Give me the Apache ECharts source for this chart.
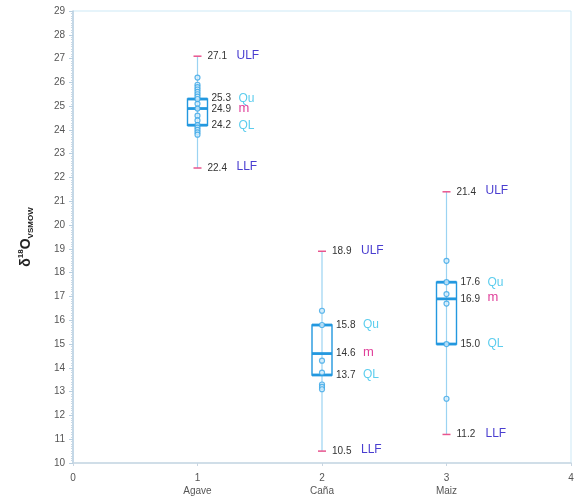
<!DOCTYPE html>
<html lang="es">
<head>
    <meta charset="UTF-8">
    <title>δ18O VSMOW</title>
    <style>
        * { margin: 0; padding: 0; }
        body { background-color: #fff; }
        #chart { width: 577px; height: 502px; }
    </style>
</head>
<body>
<div id="chart"></div>
<script src="https://cdn.jsdelivr.net/npm/echarts@6/dist/echarts.min.js"></script>
<script>
    // categorías y posición en el eje x
    var categories = ['Agave', 'Caña', 'Maiz'];
    var positions = [1, 2, 3];
    // LLF, QL, mediana, QU, ULF
    var llf = [22.4, 10.5, 11.2];
    var ql = [24.2, 13.7, 15.0];
    var median = [24.9, 14.6, 16.9];
    var qu = [25.3, 15.8, 17.6];
    var ulf = [27.1, 18.9, 21.4];
    // observaciones individuales
    var agavePoints = [26.2, 25.9, 25.8, 25.7, 25.6, 25.5, 25.4, 25.3, 25.1, 24.9, 24.6, 24.4, 24.2, 24.1, 24.0, 23.9, 23.8];
    var canaPoints = [16.4, 15.8, 14.3, 13.8, 13.3, 13.2, 13.1];
    var maizPoints = [18.5, 17.6, 17.1, 16.7, 15.0, 12.7];
    var yTicks = [10, 29, 1];
    var xTicks = [0, 4, 1];

    var boxData = positions.map(function (p, i) {
        return [p, llf[i], ql[i], median[i], qu[i], ulf[i]];
    });
    var pointData = [];
    [agavePoints, canaPoints, maizPoints].forEach(function (arr, i) {
        arr.forEach(function (v) { pointData.push([positions[i], v]); });
    });

    var boxColor = '#2398df';
    var whiskerColor = '#9bd3f2';
    var tickColor = '#e8558e';
    var numColor = '#333';
    var tagUL = '#4a3ed0';
    var tagQ = '#5ccdee';
    var tagM = '#e0409a';

    function txt(str, x, y, color, size) {
        return {
            type: 'text',
            style: {
                text: str, x: x, y: y, fill: color,
                fontSize: size, fontFamily: 'Liberation Sans, Arial',
                verticalAlign: 'middle', align: 'left'
            },
            z2: 5
        };
    }

    function renderBox(params, api) {
        var x = api.value(0);
        var pL = api.coord([x, api.value(1)]);
        var pQL = api.coord([x, api.value(2)]);
        var pM = api.coord([x, api.value(3)]);
        var pQU = api.coord([x, api.value(4)]);
        var pU = api.coord([x, api.value(5)]);
        var cx = pM[0];
        var hw = 10;
        var ch = [];
        ch.push({ type: 'line', shape: { x1: cx, y1: pU[1], x2: cx, y2: pL[1] }, style: { stroke: whiskerColor, lineWidth: 1.2 } });
        ch.push({ type: 'line', shape: { x1: cx - 4, y1: pU[1], x2: cx + 4, y2: pU[1] }, style: { stroke: tickColor, lineWidth: 1.5 } });
        ch.push({ type: 'line', shape: { x1: cx - 4, y1: pL[1], x2: cx + 4, y2: pL[1] }, style: { stroke: tickColor, lineWidth: 1.5 } });
        ch.push({ type: 'rect', shape: { x: cx - hw, y: pQU[1], width: hw * 2, height: pQL[1] - pQU[1] }, style: { fill: 'rgba(255,255,255,0)', stroke: boxColor, lineWidth: 1.4 } });
        [pQU, pM, pQL].forEach(function (p) {
            ch.push({ type: 'line', shape: { x1: cx - hw, y1: p[1], x2: cx + hw, y2: p[1] }, style: { stroke: boxColor, lineWidth: 2.8 } });
        });
        // separar etiquetas Qu / m si quedan muy juntas
        var yQU = pQU[1], yM = pM[1];
        if (yM - yQU < 11) {
            var d = (11 - (yM - yQU)) / 2;
            yQU -= d;
            yM += d;
        }
        var fmt = function (v) { return v.toFixed(1); };
        ch.push(txt(fmt(api.value(5)), cx + 10, pU[1], numColor, 10));
        ch.push(txt('ULF', cx + 39, pU[1] - 1, tagUL, 12));
        ch.push(txt(fmt(api.value(1)), cx + 10, pL[1], numColor, 10));
        ch.push(txt('LLF', cx + 39, pL[1] - 1, tagUL, 12));
        ch.push(txt(fmt(api.value(4)), cx + 14, yQU, numColor, 10));
        ch.push(txt('Qu', cx + 41, yQU, tagQ, 12));
        ch.push(txt(fmt(api.value(3)), cx + 14, yM, numColor, 10));
        ch.push(txt('m', cx + 41, yM - 1, tagM, 13));
        ch.push(txt(fmt(api.value(2)), cx + 14, pQL[1], numColor, 10));
        ch.push(txt('QL', cx + 41, pQL[1], tagQ, 12));
        return { type: 'group', children: ch };
    }

    var chart = echarts.init(document.getElementById('chart'));
    chart.setOption({
        backgroundColor: '#fff',
        animation: false,
        grid: {
            left: 73, right: 6, top: 11, bottom: 39,
            show: true, borderColor: '#cde9f6', borderWidth: 1
        },
        xAxis: {
            type: 'value',
            min: xTicks[0], max: xTicks[1], interval: xTicks[2],
            splitLine: { show: false },
            axisLine: { show: true, lineStyle: { color: '#c9d6e2', width: 1.5 } },
            axisTick: { show: true, length: 3, lineStyle: { color: '#c9d6e2' } },
            axisLabel: {
                color: '#555', fontSize: 10, margin: 9, lineHeight: 13,
                fontFamily: 'Liberation Sans, Arial',
                formatter: function (v) {
                    var i = positions.indexOf(v);
                    return i >= 0 ? v + '\n' + categories[i] : String(v);
                }
            }
        },
        yAxis: {
            type: 'value',
            min: yTicks[0], max: yTicks[1], interval: yTicks[2],
            name: '{d|δ}{s|18}{o|O}{v|VSMOW}',
            nameLocation: 'middle',
            nameGap: 38,
            nameRotate: 90,
            nameTextStyle: {
                rich: {
                    d: { fontSize: 14, fontWeight: 'bold', color: '#222', fontFamily: 'Liberation Sans, Arial' },
                    s: { fontSize: 8, fontWeight: 'bold', color: '#222', verticalAlign: 'top', fontFamily: 'Liberation Sans, Arial', padding: [0, 0, 10, 0] },
                    o: { fontSize: 14, fontWeight: 'bold', color: '#222', fontFamily: 'Liberation Sans, Arial' },
                    v: { fontSize: 8, fontWeight: 'bold', color: '#222', verticalAlign: 'bottom', fontFamily: 'Liberation Sans, Arial', padding: [8, 0, 0, 0] }
                }
            },
            splitLine: { show: false },
            axisLine: { show: true, lineStyle: { color: '#b9cfe0', width: 1.5 } },
            axisTick: { show: true, length: 4, lineStyle: { color: '#b9cfe0' } },
            minorTick: { show: true, splitNumber: 10, length: 2, lineStyle: { color: '#c7d8e6' } },
            axisLabel: { color: '#555', fontSize: 10, margin: 8, fontFamily: 'Liberation Sans, Arial' }
        },
        series: [
            {
                type: 'custom',
                renderItem: renderBox,
                encode: { x: 0, y: [1, 2, 3, 4, 5] },
                data: boxData,
                z: 2
            },
            {
                type: 'scatter',
                symbol: 'circle',
                symbolSize: 5,
                itemStyle: { color: '#d6eefb', borderColor: '#3aa6e6', borderWidth: 1.2 },
                data: pointData,
                z: 3
            }
        ]
    });
</script>
</body>
</html>
